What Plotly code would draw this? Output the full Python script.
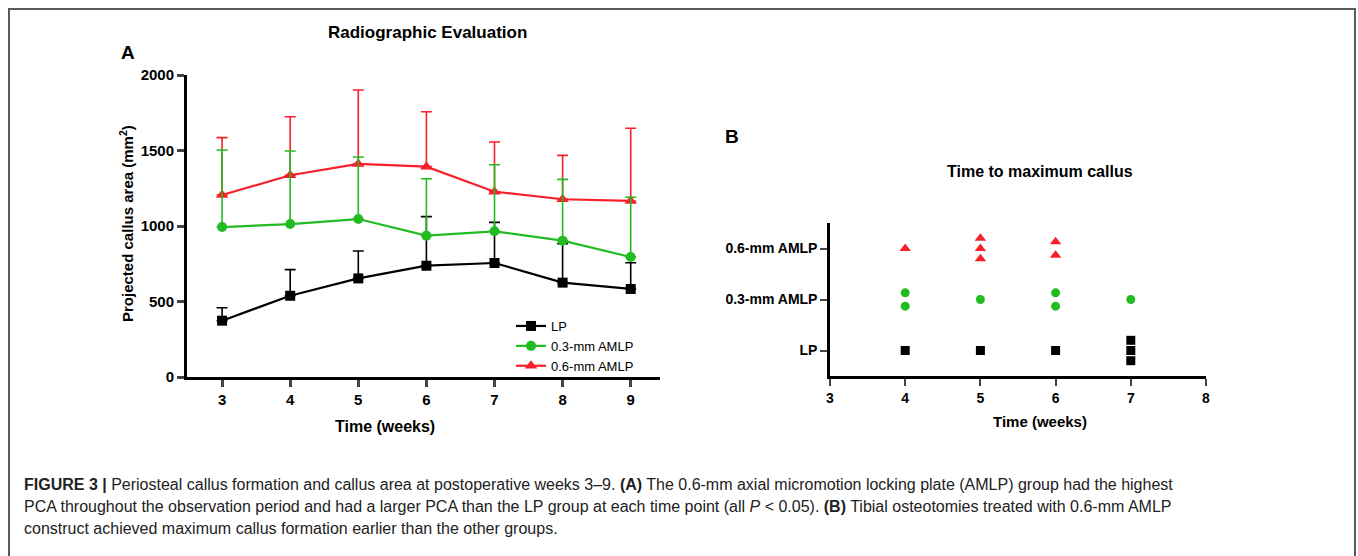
import plotly.graph_objects as go

W, H = 1358, 556

# ---------------- data ----------------
weeks = [3, 4, 5, 6, 7, 8, 9]
lp_mean = [373, 538, 653, 737, 755, 625, 583]
lp_sd = [86, 173, 181, 325, 269, 258, 174]
amlp03_mean = [993, 1013, 1046, 936, 965, 903, 795]
amlp03_sd = [510, 484, 411, 377, 441, 406, 395]
amlp06_mean = [1205, 1336, 1411, 1393, 1227, 1177, 1166]
amlp06_sd = [380, 388, 490, 364, 329, 291, 481]

group_names = ["LP", "0.3-mm AMLP", "0.6-mm AMLP"]
lp_peak_weeks = [4, 5, 6, 7, 7, 7]
amlp03_peak_weeks = [4, 4, 5, 6, 6, 7]
amlp06_peak_weeks = [4, 5, 5, 5, 6, 6]

BLACK = "#000000"
GREEN = "#22bb22"
RED = "#f7202a"
FONT = "Liberation Sans, Arial, sans-serif"


def px(x):
    return x / W


def py(y):
    return 1 - y / H


fig = go.Figure()

# ---------------- panel A ----------------
def line_trace(name, y, err, color, symbol, size, rank):
    return go.Scatter(
        x=weeks, y=y, name=name, mode="lines+markers",
        line=dict(color=color, width=2.2),
        marker=dict(symbol=symbol, size=size, color=color),
        error_y=dict(type="data", array=err, arrayminus=[0] * len(err),
                     symmetric=False, color=color, thickness=1.6, width=5.5),
        xaxis="x", yaxis="y", legendrank=rank,
    )


fig.add_trace(line_trace(group_names[0], lp_mean, lp_sd, BLACK, "square", 10, 1))
fig.add_trace(line_trace(group_names[2], amlp06_mean, amlp06_sd, RED, "triangle-up", 11, 3))
fig.add_trace(line_trace(group_names[1], amlp03_mean, amlp03_sd, GREEN, "circle", 10, 2))

# ---------------- panel B ----------------
offsets_by_count = {1: [0.0], 2: [0.13, -0.13], 3: [0.2, 0.0, -0.2]}


def scatter_points(peak_weeks, level):
    xs, ys = [], []
    for wk in sorted(set(peak_weeks)):
        n = peak_weeks.count(wk)
        for off in offsets_by_count[n]:
            xs.append(wk)
            ys.append(level + off)
    return xs, ys


for weeks_list, level, color, symbol, size in [
    (lp_peak_weeks, 1, BLACK, "square", 9),
    (amlp03_peak_weeks, 2, GREEN, "circle", 9),
    (amlp06_peak_weeks, 3, RED, "triangle-up", 10),
]:
    xs, ys = scatter_points(weeks_list, level)
    fig.add_trace(go.Scatter(
        x=xs, y=ys, mode="markers", showlegend=False,
        marker=dict(symbol=symbol, size=size, color=color),
        xaxis="x2", yaxis="y2",
    ))

tickfont = dict(family=FONT, size=15, color="black", weight="bold")

fig.update_layout(
    width=W, height=H, autosize=False,
    margin=dict(l=0, r=0, t=0, b=0, pad=0, autoexpand=False),
    paper_bgcolor="white", plot_bgcolor="white",
    font=dict(family=FONT, color="black"),
    xaxis=dict(domain=[px(187), px(660)], range=[2.485, 9.43],
               tickvals=weeks, ticks="outside", ticklen=7, tickwidth=2.5,
               showline=True, linewidth=3, linecolor="black",
               showgrid=False, zeroline=False, tickfont=tickfont,
               anchor="y", automargin=False),
    yaxis=dict(domain=[py(377), py(75)], range=[0, 2000],
               tickvals=[0, 500, 1000, 1500, 2000], ticks="outside",
               ticklen=7, tickwidth=2.5, showline=True, linewidth=3,
               linecolor="black", showgrid=False, zeroline=False,
               tickfont=tickfont, anchor="x", automargin=False),
    xaxis2=dict(domain=[px(830), px(1206)], range=[3, 8],
                tickvals=[3, 4, 5, 6, 7, 8], ticks="outside", ticklen=7,
                tickwidth=2, showline=True, linewidth=2.5, linecolor="black",
                showgrid=False, zeroline=False,
                tickfont=dict(family=FONT, size=14, color="black", weight="bold"),
                anchor="y2", automargin=False),
    yaxis2=dict(domain=[py(376), py(223)], range=[0.5, 3.5],
                tickvals=[1, 2, 3], ticktext=group_names, ticks="outside",
                ticklen=7, tickwidth=2, showline=True, linewidth=2.5,
                linecolor="black", showgrid=False, zeroline=False,
                tickfont=dict(family=FONT, size=14, color="black", weight="bold"),
                anchor="x2", automargin=False),
    showlegend=True,
    legend=dict(x=px(511), y=py(311), xanchor="left", yanchor="top",
                font=dict(family=FONT, size=13, color="black"),
                bgcolor="rgba(0,0,0,0)", tracegroupgap=0, itemwidth=30),
)

# frame
fig.add_shape(type="rect", xref="paper", yref="paper",
              x0=px(9), x1=px(1355), y0=py(580), y1=py(9),
              line=dict(color="#5a5a5a", width=2), layer="above")

ann = []


def add_text(text, x, y, size, bold=True, xanchor="center", angle=0, yanchor="middle"):
    ann.append(dict(text=text, x=px(x), y=py(y), xref="paper", yref="paper",
                    showarrow=False, xanchor=xanchor, yanchor=yanchor,
                    textangle=angle,
                    font=dict(family=FONT, size=size, color="black",
                              weight="bold" if bold else "normal")))


add_text("Radiographic Evaluation", 427, 33, 17)
add_text("A", 128, 53, 19)
add_text("Time (weeks)", 385, 426, 16)
add_text("Projected callus area (mm<sup>2</sup>)", 127, 224, 15, angle=-90)
add_text("B", 732, 136, 19)
add_text("Time to maximum callus", 1040, 171, 16)
add_text("Time (weeks)", 1040, 421, 15)

cap1 = ("<b>FIGURE 3 |</b> Periosteal callus formation and callus area at postoperative "
        "weeks 3–9. <b>(A)</b> The 0.6-mm axial micromotion locking plate (AMLP) group "
        "had the highest")
cap2 = ("PCA throughout the observation period and had a larger PCA than the LP group "
        "at each time point (all <i>P</i> &lt; 0.05). <b>(B)</b> Tibial osteotomies "
        "treated with 0.6-mm AMLP")
cap3 = "construct achieved maximum callus formation earlier than the other groups."
for t, yy in [(cap1, 484), (cap2, 506), (cap3, 528)]:
    ann.append(dict(text=t, x=px(22), y=py(yy), xref="paper", yref="paper",
                    showarrow=False, xanchor="left", yanchor="middle",
                    font=dict(family=FONT, size=16, color="#222222")))

fig.update_layout(annotations=ann)

fig.write_html("out.html")
